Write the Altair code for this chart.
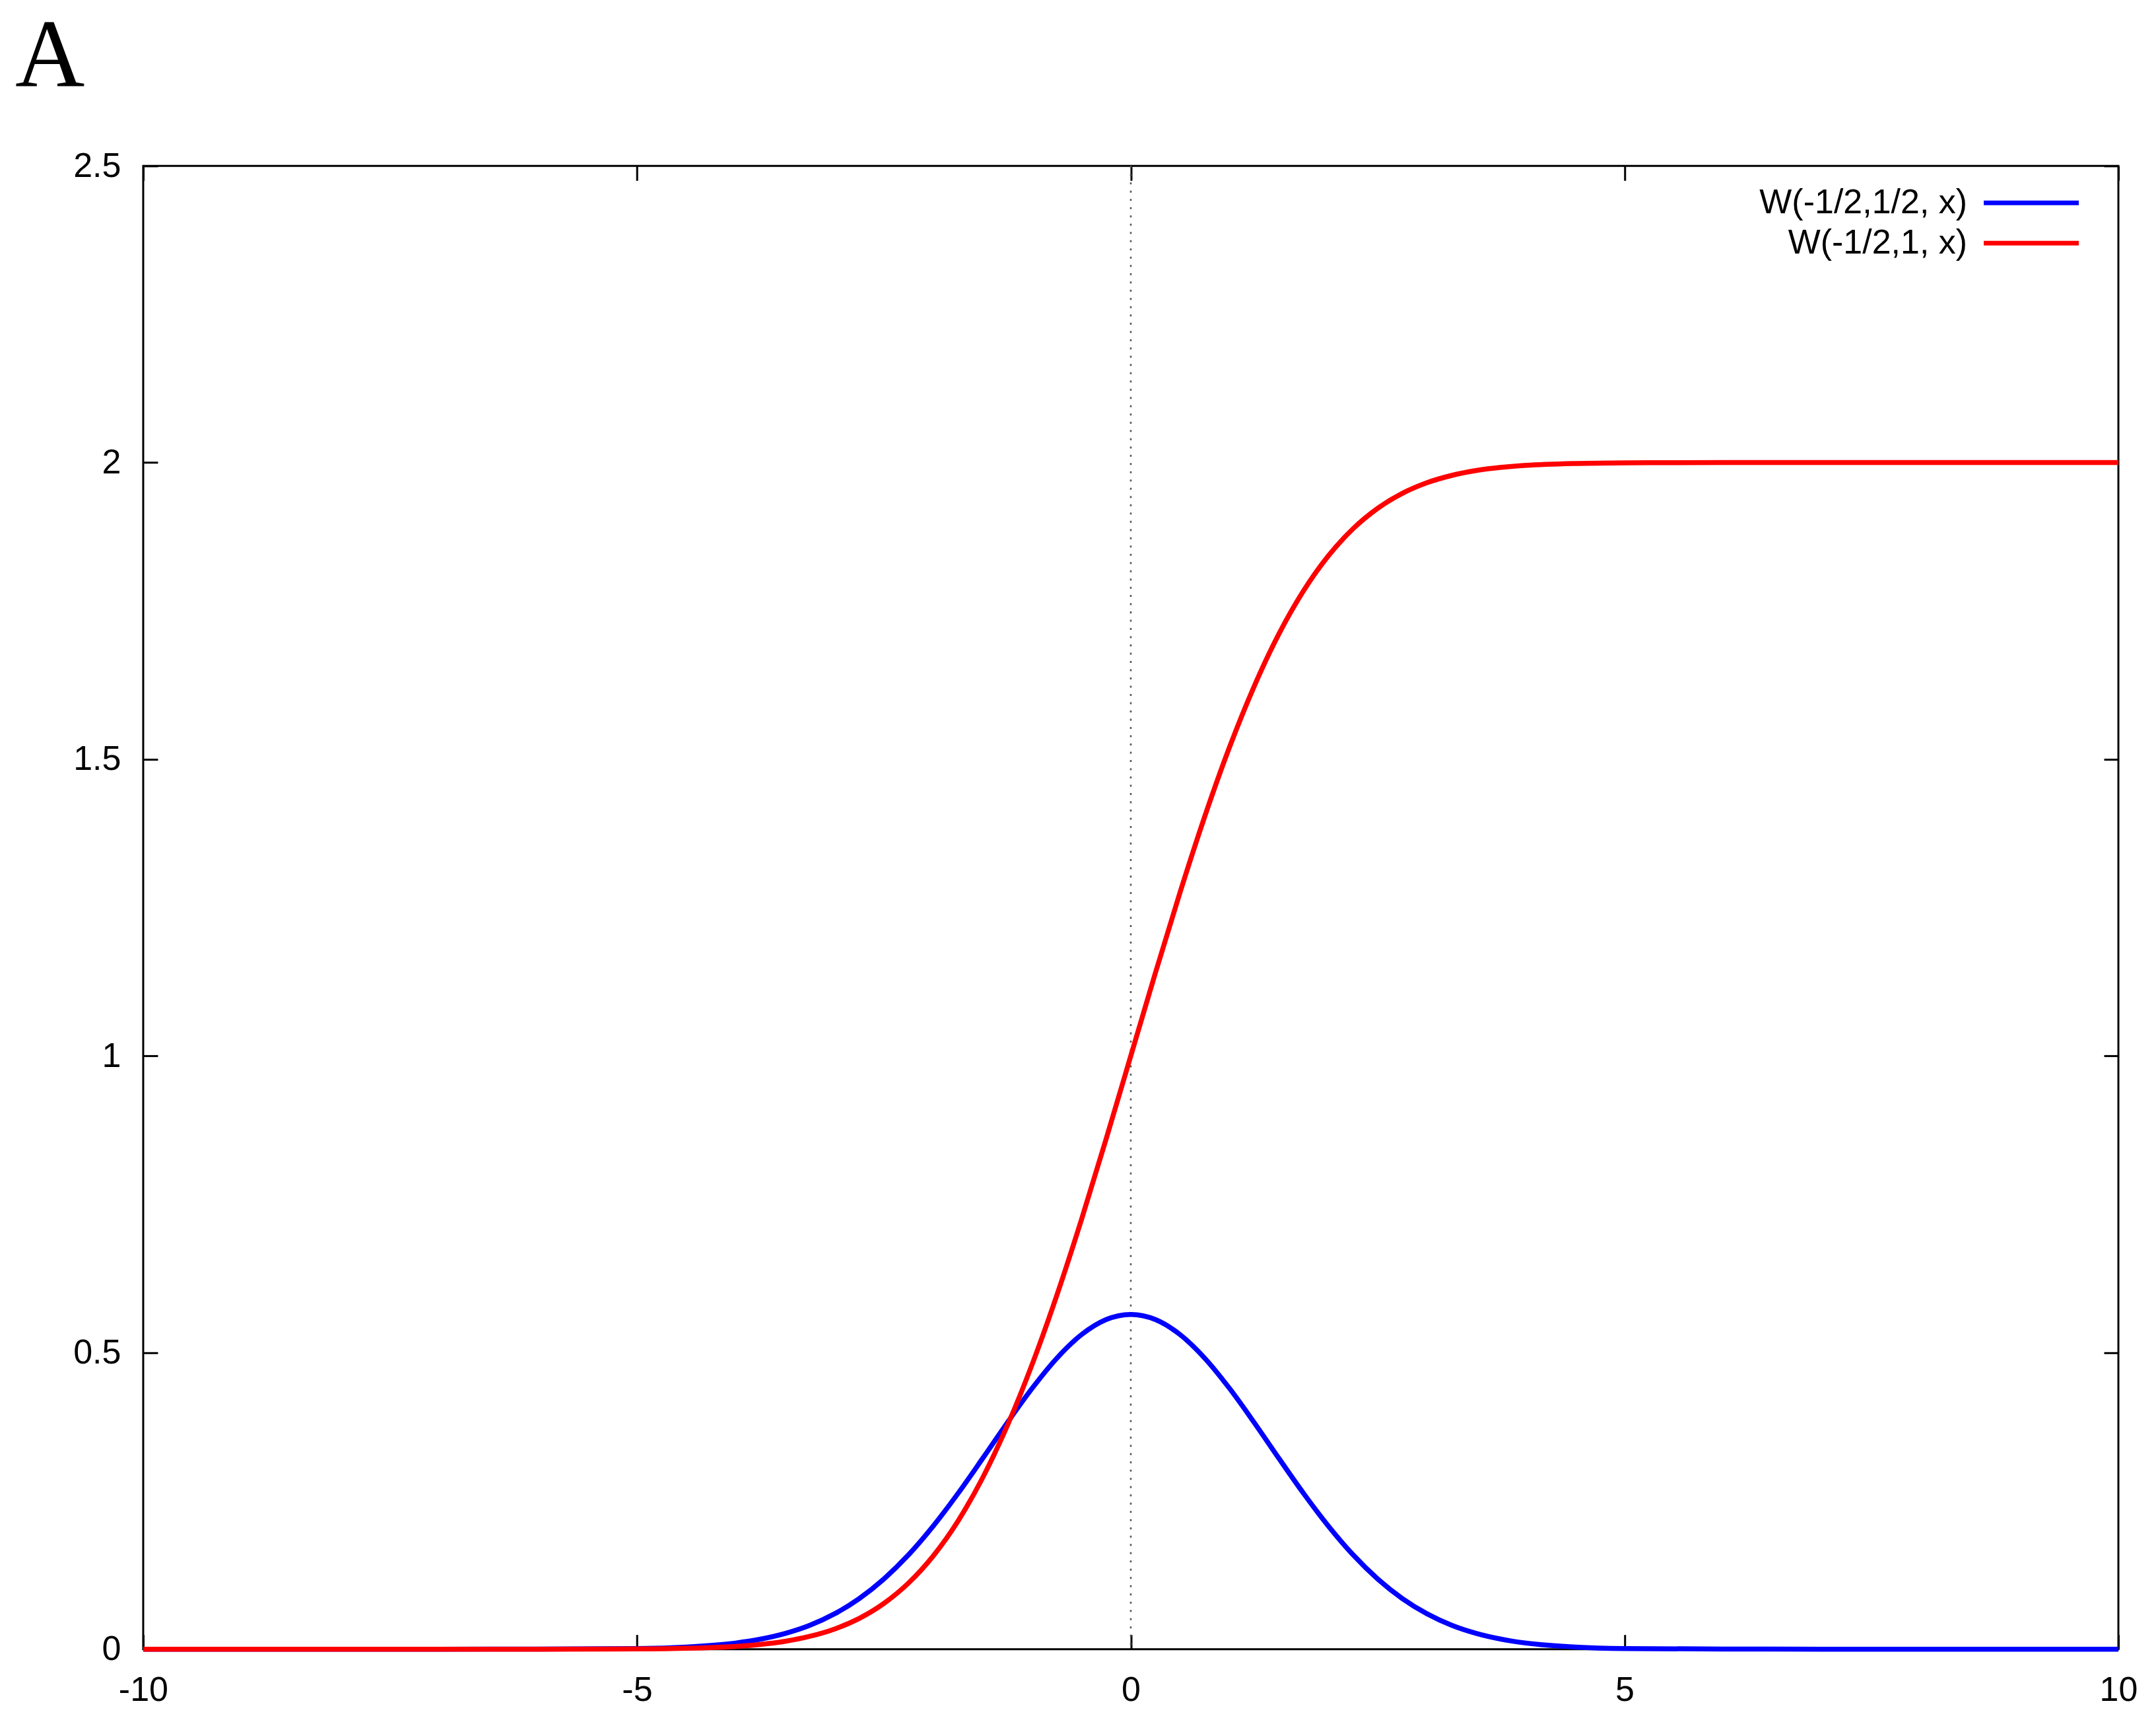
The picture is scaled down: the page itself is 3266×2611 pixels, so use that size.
import altair as alt
import pandas as pd

# ---- data ----
x_vals = [-10, -9, -8, -7, -6, -5, -4.5, -4, -3.75, -3.5, -3.25, -3, -2.75, -2.5,
          -2.25, -2, -1.75, -1.5, -1.25, -1, -0.75, -0.5, -0.25, 0, 0.25, 0.5,
          0.75, 1, 1.25, 1.5, 1.75, 2, 2.25, 2.5, 2.75, 3, 3.25, 3.5, 3.75, 4,
          4.5, 5, 6, 7, 8, 9, 10]

blue_vals = [0, 0, 0, 0, 0.0001, 0.0011, 0.0036, 0.0103, 0.0168, 0.0264, 0.0402,
             0.0595, 0.0852, 0.1183, 0.1591, 0.2076, 0.2624, 0.3215, 0.3818,
             0.4394, 0.4902, 0.5300, 0.5555, 0.5642, 0.5555, 0.5300, 0.4902,
             0.4394, 0.3818, 0.3215, 0.2624, 0.2076, 0.1591, 0.1183, 0.0852,
             0.0595, 0.0402, 0.0264, 0.0168, 0.0103, 0.0036, 0.0011, 0.0001,
             0, 0, 0, 0]

red_vals = [0, 0, 0, 0, 0, 0.0004, 0.0015, 0.0047, 0.0080, 0.0133, 0.0216,
            0.0339, 0.0518, 0.0771, 0.1116, 0.1573, 0.2159, 0.2888, 0.3768,
            0.4795, 0.5959, 0.7237, 0.8597, 1.0, 1.1403, 1.2763, 1.4041,
            1.5205, 1.6232, 1.7112, 1.7841, 1.8427, 1.8884, 1.9229, 1.9482,
            1.9661, 1.9784, 1.9867, 1.9920, 1.9953, 1.9985, 1.9996, 2.0,
            2.0, 2.0, 2.0, 2.0]

series_names = ["W(-1/2,1/2, x)", "W(-1/2,1, x)"]
series_colors = ["#0000ff", "#ff0000"]

x_ticks = [-10, -5, 0, 5, 10]
y_ticks = [0, 0.5, 1, 1.5, 2, 2.5]
zero_axis = [0]

rows = []
for name, vals in zip(series_names, [blue_vals, red_vals]):
    for xv, yv in zip(x_vals, vals):
        rows.append({"x": xv, "y": yv, "series": name})
df = pd.DataFrame(rows)
df["order"] = df["series"].map({n: i for i, n in enumerate(series_names)})

FONT = "Liberation Sans"
TICK = 22
xscale = alt.Scale(domain=[-10, 10], nice=False, zero=False)
yscale = alt.Scale(domain=[0, 2.5], nice=False, zero=False)

common_axis = dict(domain=False, tickSize=TICK, tickWidth=3, tickColor="black",
                   offset=-TICK, labelFont=FONT, labelFontSize=52,
                   labelColor="black", grid=False, title=None)

zero_rule = alt.Chart(pd.DataFrame({"x": zero_axis})).mark_rule(
    color="#555555", strokeWidth=2.5, strokeDash=[3, 9.5]
).encode(x=alt.X("x:Q", scale=xscale, axis=None))

lines = alt.Chart(df).mark_line(strokeWidth=7.5, interpolate="monotone").encode(
    x=alt.X("x:Q", scale=xscale,
            axis=alt.Axis(orient="bottom", values=x_ticks, format="d",
                          labelExpr="replace(datum.label, '\u2212', '-')",
                          labelPadding=37, labelFlush=False, **common_axis)),
    y=alt.Y("y:Q", scale=yscale,
            axis=alt.Axis(orient="left", values=y_ticks, format="~g",
                          labelPadding=34, **common_axis)),
    color=alt.Color("series:N",
                    scale=alt.Scale(domain=series_names, range=series_colors),
                    legend=alt.Legend(orient="none", legendX=2835, legendY=30,
                                      title=None, symbolType="M-4,0H4",
                                      symbolSize=1296, symbolStrokeWidth=7,
                                      labelAlign="right",
                                      labelOffset={"expr": "-123"},
                                      labelFont=FONT, labelFontSize=52,
                                      labelColor="black", labelLimit=0,
                                      rowPadding=9, padding=0)),
    order=alt.Order("order:Q"),
    detail="series:N",
)

frame_axes = alt.Chart(df).mark_point(opacity=0).encode(
    x=alt.X("x:Q", scale=xscale,
            axis=alt.Axis(orient="top", values=x_ticks, labels=False, **common_axis)),
    y=alt.Y("y:Q", scale=yscale,
            axis=alt.Axis(orient="right", values=y_ticks, labels=False, **common_axis)),
)

chart = alt.layer(zero_rule, lines, frame_axes).resolve_axis(
    x="independent", y="independent"
).properties(
    width=2993, height=2247,
    padding={"left": 15, "top": 5, "right": 20, "bottom": 20},
    title=alt.TitleParams(text="A", font="Liberation Serif", fontSize=146,
                          fontWeight="normal", anchor="start", frame="group",
                          dx=-194, offset=64, color="black"),
).configure_view(stroke="black", strokeWidth=3)

chart.save("out.html", embed_options={"renderer": "svg", "actions": False})
